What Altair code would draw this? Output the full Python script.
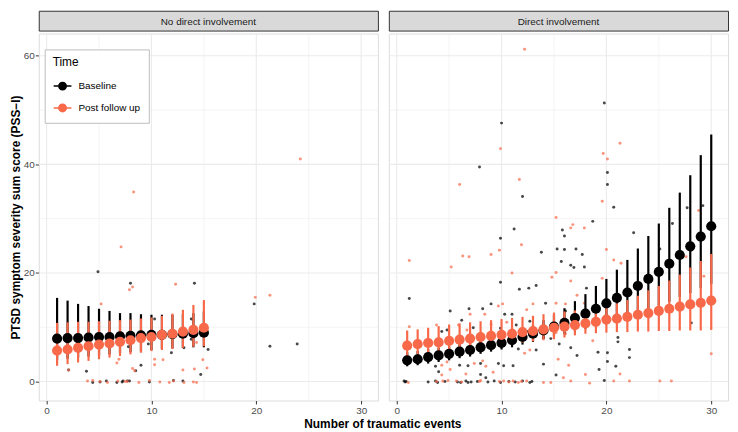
import altair as alt
import pandas as pd

FONT = "Liberation Sans"
panels = ["No direct involvement", "Direct involvement"]
times = ["Baseline", "Post follow up"]
colors = ["#000000", "#F8694A"]

# ---- model estimates (pointrange) ----
L_n = list(range(1, 16))
L_base_est = [7.9, 8.0, 8.0, 8.1, 8.2, 8.2, 8.3, 8.4, 8.5, 8.6, 8.6, 8.7, 8.8, 8.9, 9.0]
L_base_hi = [15.4, 14.9, 14.3, 13.9, 13.4, 13.0, 12.6, 12.6, 12.4, 12.3, 12.3, 12.3, 12.4, 12.6, 12.9]
L_base_lo = [4.0, 4.2, 4.4, 4.6, 4.8, 5.0, 5.2, 5.4, 5.6, 5.8, 6.0, 6.1, 6.2, 6.3, 6.3]
L_post_est = [5.7, 5.9, 6.2, 6.5, 6.8, 7.0, 7.3, 7.6, 8.0, 8.2, 8.6, 8.8, 9.2, 9.5, 9.9]
L_post_hi = [10.8, 10.9, 11.0, 11.0, 11.1, 11.2, 11.3, 11.4, 11.6, 11.8, 12.1, 12.5, 13.2, 14.1, 15.0]
L_post_lo = [2.9, 3.2, 3.5, 3.8, 4.1, 4.4, 4.7, 5.0, 5.3, 5.6, 5.8, 6.0, 6.2, 6.4, 6.5]

R_n = list(range(1, 31))
R_base_est = [3.9, 4.1, 4.5, 4.8, 5.1, 5.5, 5.8, 6.3, 6.7, 7.1, 7.6, 8.2, 8.8, 9.4, 10.1,
              10.8, 11.7, 12.5, 13.4, 14.4, 15.4, 16.4, 17.6, 18.9, 20.2, 21.7, 23.3, 24.9, 26.7, 28.6]
R_base_hi = [5.4, 5.6, 5.9, 6.2, 6.5, 6.9, 7.2, 7.6, 8.0, 8.5, 9.0, 9.7, 10.4, 11.3, 12.3,
             13.5, 14.8, 16.1, 17.6, 18.9, 20.6, 22.4, 24.5, 26.8, 29.1, 32.0, 34.8, 38.0, 41.7, 45.5]
R_base_lo = [2.8, 3.0, 3.3, 3.6, 3.9, 4.3, 4.6, 5.1, 5.5, 5.9, 6.3, 6.8, 7.3, 7.8, 8.3,
             8.7, 9.2, 9.7, 10.2, 10.9, 11.4, 12.0, 12.6, 13.3, 14.0, 14.7, 15.6, 16.3, 17.2, 18.0]
R_post_est = [6.6, 6.9, 7.1, 7.2, 7.5, 7.7, 7.9, 8.2, 8.4, 8.6, 8.8, 9.1, 9.3, 9.6, 9.9,
              10.1, 10.4, 10.7, 11.0, 11.4, 11.6, 11.9, 12.3, 12.6, 13.0, 13.4, 13.8, 14.2, 14.5, 14.9]
R_post_hi = [9.4, 9.6, 9.9, 10.2, 10.5, 10.7, 10.9, 11.1, 11.3, 11.5, 11.7, 11.9, 12.1, 12.4, 12.7,
             12.9, 13.1, 13.3, 13.6, 13.9, 14.4, 15.0, 15.8, 16.8, 17.6, 18.6, 19.7, 21.0, 22.2, 23.5]
R_post_lo = [4.7, 5.0, 5.2, 5.4, 5.6, 5.9, 6.1, 6.3, 6.5, 6.8, 7.0, 7.2, 7.4, 7.6, 7.8,
             8.1, 8.5, 8.8, 8.9, 9.0, 9.1, 9.1, 9.2, 9.2, 9.3, 9.3, 9.4, 9.4, 9.4, 9.5]

# ---- raw observations ----
lb_x = [4.9, 8.0, 14.1, 19.8, 21.3, 23.9, 10.3, 13.8, 9.7, 11.9, 15.4, 13.1, 13.8, 7.8, 14.7, 3.8, 9.0, 8.5, 2.1,
        4.4, 5.1, 5.7, 6.7, 7.2, 7.3, 7.7, 7.9, 9.8, 12.1, 13.0]
lb_y = [20.2, 18.1, 18.1, 14.3, 6.5, 6.9, 11.5, 11.5, 6.9, 5.3, 5.9, 6.2, 7.8, 6.4, 1.3, 1.9, 3.0, 2.0, 2.1,
        -0.2, -0.1, 0.1, -0.2, -0.1, 0.1, 0.1, 0.1, -0.1, 0.2, 0.1]
lp_x = [7.1, 7.9, 8.2, 12.3, 19.9, 21.3, 24.2, 8.3, 5.2, 14.3, 6.9, 6.7, 10.3, 10.3, 11.1, 14.9, 15.3, 13.0, 14.1,
        2.1, 8.2, 8.4, 3.9, 4.4, 5.1, 5.8, 6.8, 7.5, 7.7, 8.8, 9.8, 10.8, 11.7, 12.1, 13.1, 14.0, 14.3]
lp_y = [24.8, 16.9, 17.4, 17.9, 15.5, 15.9, 41.0, 34.9, 14.3, 7.2, 4.1, 3.4, 4.1, 3.1, 4.0, 4.0, 2.5, 2.1, 2.3,
        2.1, 2.4, 2.0, 0.1, 0.2, 0.0, -0.2, 0.1, 0.0, 0.0, -0.2, 0.2, -0.1, -0.2, 0.1, -0.2, -0.1, -0.2]
rb_x = [19.8, 10.0, 7.9, 20.1, 20.1, 12.0, 20.7, 18.7, 11.2, 15.8, 16.0, 22.6, 26.3, 27.7, 29.2, 9.9, 13.8, 15.3,
        16.0, 17.1, 17.7, 25.1, 15.7, 28.1,
        1.2, 9.9, 11.7, 12.6, 13.3, 5.1, 6.9, 8.2, 9.0, 10.3, 11.0, 14.2, 6.2, 4.3, 4.8, 7.3, 9.9, 11.4, 12.5, 12.7,
        14.0, 14.7, 3.7, 4.0, 6.0, 6.8, 8.0, 8.0, 8.5, 9.7, 10.2, 11.1, 11.6, 13.3, 14.0,
        16.6, 16.9, 17.9, 18.1, 16.1, 28.1, 21.1, 21.1, 15.5, 16.6, 19.2, 22.2, 22.2, 17.2, 20.1, 20.1, 20.9, 19.3,
        15.2, 19.8,
        0.7, 0.8, 0.9, 3.0, 3.7, 3.9, 4.6, 5.8, 6.1, 6.6, 6.8, 7.1, 7.7, 8.7, 9.3, 9.9, 10.7, 11.3, 12.0, 12.7, 12.9]
rb_y = [51.3, 47.6, 39.5, 38.5, 36.3, 34.1, 32.1, 29.5, 28.1, 27.9, 26.8, 27.4, 29.1, 32.0, 32.4, 26.4, 23.8, 24.4,
        24.3, 24.4, 23.4, 24.4, 22.1, 24.2,
        15.3, 18.3, 17.0, 17.2, 17.7, 13.0, 13.4, 13.4, 14.3, 12.4, 12.4, 14.4, 11.3, 9.2, 9.5, 9.9, 9.8, 10.4, 9.2,
        11.1, 8.1, 7.9, 2.8, 1.8, 3.0, 2.9, 3.3, 1.3, 0.7, 3.3, 2.9, 2.9, 6.0, 5.8, 3.2,
        21.4, 21.0, 21.1, 17.2, 13.0, 10.8, 8.1, 7.3, 6.9, 6.2, 5.4, 5.9, 4.4, 4.8, 5.3, 3.7, 2.8, 2.2, 1.2, 0.2,
        0.1, -0.1, 0.0, -0.1, 0.1, -0.2, 0.0, -0.1, -0.2, 0.1, -0.2, -0.1, 0.0, -0.1, 0.1, -0.2, 0.0, -0.1, 0.1,
        -0.2, 0.0]
rp_x = [12.2, 9.9, 21.3, 19.7, 20.1, 6.0, 11.7, 19.6, 15.2, 16.8, 16.6, 17.9, 28.8, 11.9, 9.8, 20.0, 9.0, 6.3, 6.9,
        1.2, 20.7, 27.6,
        5.2, 11.0, 14.8, 15.2, 15.2, 7.0, 8.4, 9.7, 10.1, 12.4, 13.0, 5.9, 3.8, 9.0, 6.7, 10.5, 11.0, 12.2, 15.2,
        4.3, 4.8, 4.3, 5.1, 6.6, 7.4, 8.2, 8.5, 9.2, 12.2, 12.7, 1.2,
        21.4, 16.6, 19.6, 29.3, 17.2, 17.9, 16.1, 16.1, 18.7, 30.0, 15.4, 16.4, 18.0, 21.3, 15.9,
        1.1, 3.8, 4.4, 4.9, 5.7, 6.2, 7.9, 8.0, 9.8, 10.2, 10.7, 11.1, 11.6, 11.9, 12.4, 14.0, 14.7, 16.6, 18.4,
        20.7, 22.2, 25.1, 26.2]
rp_y = [61.2, 42.9, 43.9, 42.0, 41.0, 36.3, 37.2, 33.2, 30.2, 28.9, 28.3, 28.3, 31.5, 25.2, 24.2, 24.3, 23.4, 23.1,
        23.0, 22.3, 22.4, 23.0,
        21.1, 20.0, 19.2, 20.1, 14.4, 12.4, 12.4, 13.9, 14.3, 13.2, 14.3, 10.4, 10.4, 10.5, 9.5, 10.9, 9.6, 8.1, 9.0,
        3.0, 3.6, 1.2, 2.2, 1.4, 3.3, 3.8, 2.8, 1.7, 5.2, 5.8, 10.1,
        21.8, 18.5, 19.0, 19.4, 15.9, 14.4, 14.3, 8.8, 7.5, 5.1, 4.1, 3.0, 1.3, 1.4, 0.7,
        -0.2, 0.0, 0.1, 0.2, 0.1, -0.1, 0.0, 0.2, 0.0, 0.1, -0.1, 0.1, -0.2, 0.0, 0.1, -0.2, -0.2, 0.1, -0.3, 0.1,
        0.1, 0.1, 0.1]

grid_x_vals = [0, 5, 10, 15, 20, 25, 30]
grid_y_vals = [0, 10, 20, 30, 40, 50, 60]
x_ticks = [0, 10, 20, 30]
y_ticks = [0, 20, 40, 60]

W, H, STRIP = 342, 370, 20

xs = alt.Scale(domain=[-0.75, 31.6], nice=False, zero=False)
ys = alt.Scale(domain=[-3.5, 64.1], nice=False, zero=False)
cs = alt.Scale(domain=times, range=colors)


def model_df(n, be, bl, bh, pe, pl, ph):
    b = pd.DataFrame({"n": n, "est": be, "lo": bl, "hi": bh, "time": times[0]})
    p = pd.DataFrame({"n": n, "est": pe, "lo": pl, "hi": ph, "time": times[1]})
    return pd.concat([b, p], ignore_index=True)


def raw_df(x, y):
    assert len(x) == len(y)
    return pd.DataFrame({"x": x, "y": y})


XAXIS = alt.Axis(values=x_ticks, title=None, grid=False, domain=False,
                 tickColor="#333333", tickSize=3.5, tickWidth=1, labelColor="#4D4D4D",
                 labelFontSize=10, labelPadding=2, labelFont=FONT)
YAXIS = alt.Axis(values=y_ticks, title="PTSD symptom severity sum score (PSS\u2212I)",
                 grid=False, domain=False, tickColor="#333333", tickSize=3.5, tickWidth=1,
                 labelColor="#4D4D4D", labelFontSize=10, labelPadding=1, labelFont=FONT,
                 titleFont=FONT, titleFontSize=12, titleFontWeight="bold", titleColor="#000000",
                 titlePadding=1)


def make_panel(idx, mdf, rb, rp, show_y, show_legend):
    yaxis = YAXIS if show_y else None

    def X(f):
        return alt.X(f, scale=xs, axis=XAXIS)

    def Y(f):
        return alt.Y(f, scale=ys, axis=yaxis)

    gx = pd.DataFrame({"v": grid_x_vals, "w": [1.1 if v % 10 == 0 else 0.55 for v in grid_x_vals]})
    gy = pd.DataFrame({"v": grid_y_vals, "w": [1.1 if v % 20 == 0 else 0.55 for v in grid_y_vals]})

    grid_x = alt.Chart(gx).mark_rule(color="#EBEBEB").encode(
        x=X("v:Q"), strokeWidth=alt.StrokeWidth("w:Q", scale=None, legend=None))
    grid_y = alt.Chart(gy).mark_rule(color="#EBEBEB").encode(
        y=Y("v:Q"), strokeWidth=alt.StrokeWidth("w:Q", scale=None, legend=None))

    raw_b = alt.Chart(rb).mark_circle(size=9, color=colors[0], opacity=0.72).encode(x=X("x:Q"), y=Y("y:Q"))
    raw_p = alt.Chart(rp).mark_circle(size=9, color=colors[1], opacity=0.72).encode(x=X("x:Q"), y=Y("y:Q"))

    if show_legend:
        leg = alt.Legend(title="Time", orient="none", legendX=6, legendY=16,
                         symbolType="M-1,0H1M-0.42,0A0.42,0.42,0,1,1,0.42,0A0.42,0.42,0,1,1,-0.42,0Z",
                         symbolSize=320, symbolStrokeWidth=1.5, symbolOpacity=1,
                         titleFont=FONT, titleFontSize=12, titleFontWeight="normal", titleColor="#000000",
                         labelFont=FONT, labelFontSize=10, labelColor="#000000", labelOffset=6,
                         fillColor="#FFFFFF", strokeColor="#BDBDBD", padding=8, rowPadding=5,
                         titlePadding=7, cornerRadius=0)
    else:
        leg = None

    color = alt.Color("time:N", scale=cs, legend=leg, sort=times)
    rules = alt.Chart(mdf).mark_rule(strokeWidth=2.2).encode(
        x=X("n:Q"), y=Y("lo:Q"), y2="hi:Q", color=color)
    pts = alt.Chart(mdf).mark_circle(size=105, opacity=1).encode(
        x=X("n:Q"), y=Y("est:Q"), color=color)

    plot = alt.layer(grid_x, grid_y, raw_b, raw_p, rules, pts).properties(width=W, height=H)

    strip = alt.Chart(pd.DataFrame({"label": [panels[idx]]})).mark_text(
        font=FONT, fontSize=10, color="#1A1A1A").encode(
        text="label:N", x=alt.value(W / 2), y=alt.value(STRIP / 2 + 1)).properties(
        width=W, height=STRIP,
        view=alt.ViewBackground(fill="#D9D9D9", stroke="#333333", strokeWidth=1))

    return alt.vconcat(strip, plot, spacing=0).resolve_scale(color="independent")


left = make_panel(0, model_df(L_n, L_base_est, L_base_lo, L_base_hi, L_post_est, L_post_lo, L_post_hi),
                  raw_df(lb_x, lb_y), raw_df(lp_x, lp_y), True, True)
right = make_panel(1, model_df(R_n, R_base_est, R_base_lo, R_base_hi, R_post_est, R_post_lo, R_post_hi),
                   raw_df(rb_x, rb_y), raw_df(rp_x, rp_y), False, False)

chart = alt.hconcat(left, right, spacing=7).resolve_scale(color="independent").properties(
    title=alt.TitleParams("Number of traumatic events", orient="bottom", anchor="middle",
                          font=FONT, fontSize=12, fontWeight="bold", color="#000000", offset=3, dx=14),
    padding={"left": 0, "top": 0, "right": 0, "bottom": 0},
).configure_view(stroke="#333333", strokeWidth=1).configure(font=FONT)

chart.save("out.html", embed_options={"renderer": "svg", "actions": False})
